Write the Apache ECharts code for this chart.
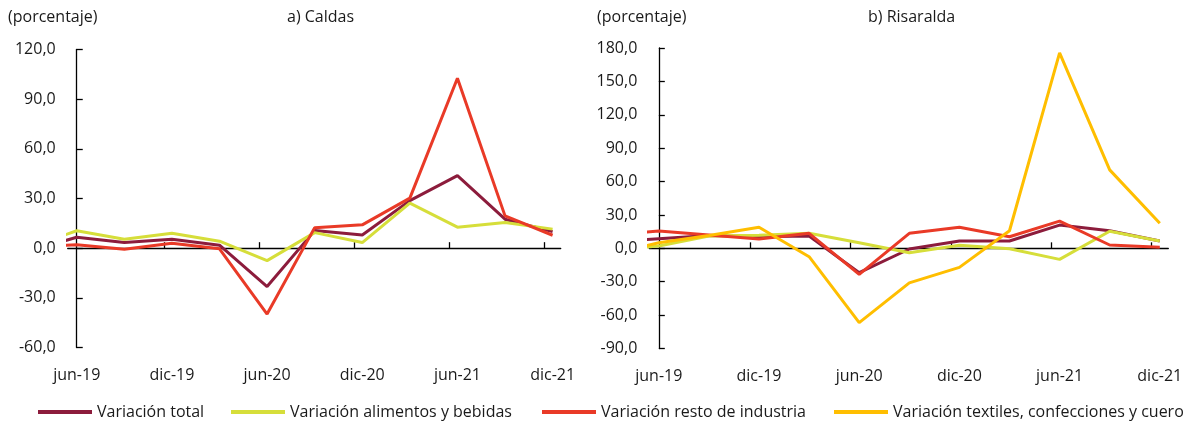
<!DOCTYPE html>
<html>
<head>
<meta charset="utf-8">
<script src="https://cdn.jsdelivr.net/npm/echarts@6/dist/echarts.min.js"></script>
<style>
html,body{margin:0;padding:0;background:#fff;}
#chart{width:1198px;height:422px;}
</style>
</head>
<body>
<div id="chart"></div>
<script>
// Quarterly periods; index -1 = mar-19 (only its clipped stub shows at the axis)
const periods = ['mar-19','jun-19','sep-19','dic-19','mar-20','jun-20','sep-20','dic-20','mar-21','jun-21','sep-21','dic-21'];
const tickLabels = ['jun-19','dic-19','jun-20','dic-20','jun-21','dic-21'];

const seriesNames = ['Variación total','Variación alimentos y bebidas','Variación resto de industria','Variación textiles, confecciones y cuero'];

// a) Caldas
const caldasTotal     = [-1.8, 6.6, 3.4, 5.4, 1.8, -23.2, 10.6, 8.0, 28.7, 43.8, 17.5, 10.0];
const caldasAlimentos = [0.5, 10.5, 5.4, 9.0, 4.2, -7.5, 9.4, 3.4, 27.2, 12.7, 15.5, 11.5];
const caldasResto     = [1.0, 2.0, -0.6, 3.0, -0.4, -39.8, 12.4, 14.1, 30.2, 102.6, 19.5, 7.8];

// b) Risaralda
const risTotal     = [5.5, 8.7, 11.5, 10.5, 11.0, -21.9, -0.6, 6.6, 6.6, 20.9, 15.8, 6.6];
const risAlimentos = [-1.6, 2.1, 11.0, 11.7, 13.5, 5.0, -3.9, 2.7, -0.3, -9.9, 15.3, 6.6];
const risResto     = [12.3, 15.5, 12.0, 8.4, 13.5, -23.4, 13.5, 18.9, 10.4, 24.5, 3.0, 0.9];
const risTextiles  = [-5.5, 5.0, 11.5, 18.9, -7.5, -66.8, -31.0, -17.1, 15.8, 175.7, 70.5, 22.5];

const colors = ['#8C1C3C', '#D6DE3A', '#E93A27', '#FFBE00'];
const FONT = '"Open Sans", sans-serif';
const TXT = '#1a1a1a';

function toPairs(arr){ return arr.map((v,i)=>[i-1, v]); }
function fmt(v){ return v.toFixed(1).replace('.', ','); }

function xAxesFor(gridIndex){
  return [
    { // labels at bottom
      type:'value', gridIndex, min:-0.19, max:10.17, position:'bottom',
      axisLine:{show:false, onZero:false}, axisTick:{show:false}, splitLine:{show:false},
      axisLabel:{customValues:[0,2,4,6,8,10], margin:20, fontFamily:FONT, fontSize:16, color:TXT,
        formatter:(v)=>periods[Math.round(v)+1]}
    },
    { // zero line with ticks
      type:'value', gridIndex, min:-0.19, max:10.17, position:'bottom',
      axisLine:{show:true, onZero:true, lineStyle:{color:'#000', width:1.3}},
      axisTick:{show:true, inside:true, length:6, customValues:[1.83,3.83,5.83,7.83,9.83], lineStyle:{color:'#000', width:1.3}},
      axisLabel:{show:false}, splitLine:{show:false}
    }
  ];
}
function yAxisFor(gridIndex, min, max){
  return {
    type:'value', gridIndex, min, max, interval:30,
    axisLine:{show:true, lineStyle:{color:'#000', width:1.3}},
    axisTick:{show:true, inside:true, length:6, lineStyle:{color:'#000', width:1.3}},
    splitLine:{show:false},
    axisLabel:{formatter:fmt, margin:12, fontFamily:FONT, fontSize:16, color:TXT}
  };
}
function line(name, data, colorIdx, xi, yi){
  return {type:'line', name, data:toPairs(data), xAxisIndex:xi, yAxisIndex:yi,
    showSymbol:false, symbol:'none', clip:true,
    lineStyle:{width:3, color:colors[colorIdx]}, itemStyle:{color:colors[colorIdx]}};
}

const legendLefts = [38, 231, 542, 834];
const legends = seriesNames.map((n,i)=>({
  data:[n], left:legendLefts[i], top:404, padding:0, icon:'rect', itemWidth:54, itemHeight:4,
  textStyle:{fontFamily:FONT, fontSize:16, color:TXT}
}));

const titleStyle = {fontFamily:FONT, fontSize:16, fontWeight:'normal', color:TXT};
const option = {
  animation:false,
  title:[
    {text:'(porcentaje)', left:8, top:9, padding:0, textStyle:titleStyle},
    {text:'a) Caldas', left:287, top:9, padding:0, textStyle:titleStyle},
    {text:'(porcentaje)', left:597, top:9, padding:0, textStyle:titleStyle},
    {text:'b) Risaralda', left:868, top:9, padding:0, textStyle:titleStyle}
  ],
  legend:legends,
  grid:[
    {left:67.7, top:49.5, width:493, height:298},
    {left:649.3, top:48, width:519, height:300.5}
  ],
  xAxis:[...xAxesFor(0), ...xAxesFor(1)],
  yAxis:[yAxisFor(0,-60,120), yAxisFor(1,-90,180)],
  series:[
    line(seriesNames[0], caldasTotal, 0, 0, 0),
    line(seriesNames[1], caldasAlimentos, 1, 0, 0),
    line(seriesNames[2], caldasResto, 2, 0, 0),
    line(seriesNames[0], risTotal, 0, 2, 1),
    line(seriesNames[1], risAlimentos, 1, 2, 1),
    line(seriesNames[2], risResto, 2, 2, 1),
    line(seriesNames[3], risTextiles, 3, 2, 1)
  ]
};
const chart = echarts.init(document.getElementById('chart'), null, {renderer:'canvas'});
chart.setOption(option);
</script>
</body>
</html>
